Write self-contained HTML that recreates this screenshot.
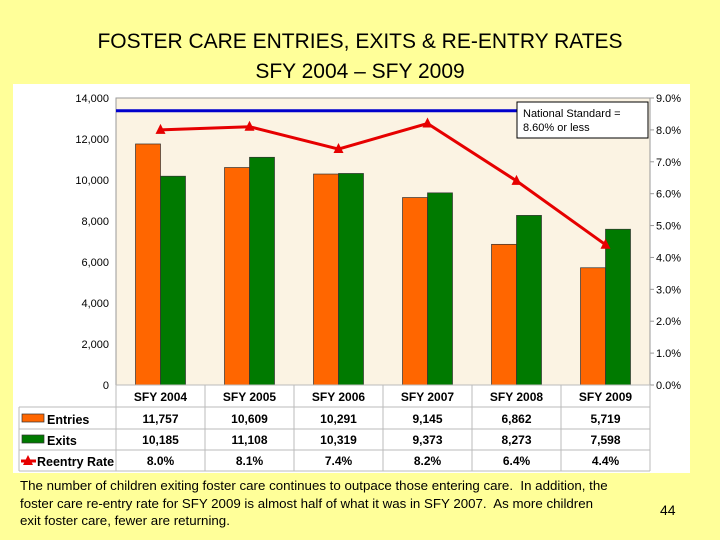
<!DOCTYPE html>
<html><head><meta charset="utf-8"><style>
body{margin:0;width:720px;height:540px;background:#ffff99;font-family:"Liberation Sans",sans-serif;position:relative;overflow:hidden}
.t{position:absolute;left:0;width:720px;text-align:center;font-size:21px;color:#000}
.note{position:absolute;left:20px;top:477px;width:660px;font-size:13.3px;line-height:17.5px;white-space:nowrap}
</style></head><body>
<div class="t" style="top:30px">FOSTER CARE ENTRIES, EXITS &amp; RE-ENTRY RATES</div>
<div class="t" style="top:60px">SFY 2004 – SFY 2009</div>
<svg id="c" width="720" height="540" style="position:absolute;left:0;top:0" xmlns="http://www.w3.org/2000/svg"></svg>
<div class="note">The number of children exiting foster care continues to outpace those entering care.&nbsp; In addition, the<br>foster care re-entry rate for SFY 2009 is almost half of what it was in SFY 2007.&nbsp; As more children<br>exit foster care, fewer are returning.</div>
<div style="position:absolute;left:660px;top:502px;font-size:14px">44</div>
<script>
const categories=["SFY 2004","SFY 2005","SFY 2006","SFY 2007","SFY 2008","SFY 2009"];
const entries=[11757,10609,10291,9145,6862,5719];
const exits=[10185,11108,10319,9373,8273,7598];
const reentry=[8.0,8.1,7.4,8.2,6.4,4.4];
const standard=8.6;
const leftTicks=[0,2000,4000,6000,8000,10000,12000,14000];
const rightTicks=[0,1,2,3,4,5,6,7,8,9];
const NS="http://www.w3.org/2000/svg",svg=document.getElementById('c');
const X0=116,X1=650,Y0=385,Y1=98,cw=(X1-X0)/categories.length;
const yL=v=>Y0-v/14000*(Y0-Y1), yR=v=>Y0-v/9*(Y0-Y1), xc=i=>X0+cw*(i+0.5);
function mk(t,a,txt){const e=document.createElementNS(NS,t);for(const k in a)e.setAttribute(k,a[k]);if(txt!==undefined)e.textContent=txt;svg.appendChild(e);return e;}
let e;
e=mk('rect',{x:13,y:84,width:677,height:389,fill:'#fff'});

e=mk('rect',{x:X0,y:Y1,width:X1-X0,height:Y0-Y1,fill:'#fbf3e3',stroke:'#999'});

leftTicks.forEach(v=>{e=mk('text',{x:X0-7,y:yL(v)+4,'text-anchor':'end','font-size':11},v.toLocaleString('en-US'));
});
rightTicks.forEach(v=>{mk('line',{x1:X1,x2:X1+4,y1:yR(v),y2:yR(v),stroke:'#999'});
e=mk('text',{x:X1+6,y:yR(v)+4,'font-size':11},v.toFixed(1)+'%');
});
const bw=25;
categories.forEach((c,i)=>{
e=mk('rect',{x:xc(i)-bw,y:yL(entries[i]),width:bw,height:Y0-yL(entries[i]),fill:'#ff6600',stroke:'#333','stroke-width':0.7});

e=mk('rect',{x:xc(i),y:yL(exits[i]),width:bw,height:Y0-yL(exits[i]),fill:'#007a00',stroke:'#333','stroke-width':0.7});

});
e=mk('line',{x1:X0,x2:517,y1:yR(standard),y2:yR(standard),stroke:'#0000cc','stroke-width':3});

e=mk('polyline',{points:reentry.map((v,i)=>xc(i)+','+yR(v)).join(' '),fill:'none',stroke:'#e60000','stroke-width':3});

function tri(x,y){return (x)+','+(y-6)+' '+(x-5)+','+(y+4)+' '+(x+5)+','+(y+4);}
reentry.forEach((v,i)=>{e=mk('polygon',{points:tri(xc(i),yR(v)),fill:'#e60000'});
});
e=mk('rect',{x:517,y:102,width:131,height:36,fill:'#fff',stroke:'#000'});

mk('text',{x:523,y:117,'font-size':11},'National Standard =');
mk('text',{x:523,y:131,'font-size':11},'8.60% or less');
const rows=[385,407,429,450,471];
rows.forEach((y,k)=>{mk('line',{x1:k==0?X0:19,x2:X1,y1:y,y2:y,stroke:'#bbb'});});
mk('line',{x1:19,x2:19,y1:407,y2:471,stroke:'#bbb'});
for(let i=0;i<=categories.length;i++)mk('line',{x1:X0+cw*i,x2:X0+cw*i,y1:385,y2:471,stroke:'#bbb'});
categories.forEach((c,i)=>{
e=mk('text',{x:xc(i),y:401,'text-anchor':'middle','font-size':12,'font-weight':'bold'},c);

mk('text',{x:xc(i),y:423,'text-anchor':'middle','font-size':12,'font-weight':'bold'},entries[i].toLocaleString('en-US'));
mk('text',{x:xc(i),y:444,'text-anchor':'middle','font-size':12,'font-weight':'bold'},exits[i].toLocaleString('en-US'));
mk('text',{x:xc(i),y:465,'text-anchor':'middle','font-size':12,'font-weight':'bold'},reentry[i].toFixed(1)+'%');
});
e=mk('rect',{x:22,y:414,width:22,height:8,fill:'#ff6600',stroke:'#333','stroke-width':0.7});

mk('text',{x:47,y:424,'font-size':12.5,'font-weight':'bold'},'Entries');
e=mk('rect',{x:22,y:435,width:22,height:8,fill:'#007a00',stroke:'#333','stroke-width':0.7});

mk('text',{x:47,y:445,'font-size':12.5,'font-weight':'bold'},'Exits');
e=mk('line',{x1:21,x2:36,y1:461,y2:461,stroke:'#e60000','stroke-width':3});

mk('polygon',{points:tri(28,461),fill:'#e60000'});
mk('text',{x:37,y:466,'font-size':12.5,'font-weight':'bold'},'Reentry Rate');
</script>
</body></html>
